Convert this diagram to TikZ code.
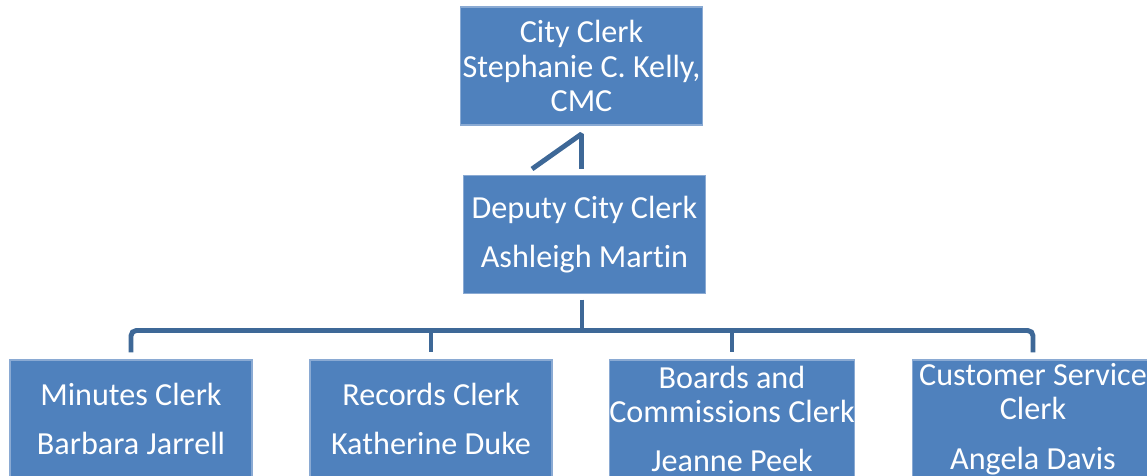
\documentclass[tikz,border=0pt]{standalone}
\usepackage{fontspec}
\setmainfont{Carlito}[Ligatures=NoCommon]
\definecolor{boxfill}{HTML}{4F81BD}
\definecolor{boxline}{HTML}{8AAAD3}
\definecolor{linkblue}{HTML}{3E6897}
\begin{document}
\begin{tikzpicture}[x=0.02cm,y=-0.02cm,
  box/.style={draw=boxline,fill=boxfill,line width=0.6pt,text=white,
    minimum width=4.84cm,minimum height=2.36cm,inner sep=0pt,align=center,
    font=\fontsize{18.3}{19.6}\selectfont},
  link/.style={draw=linkblue,line width=2.8pt}]
			%%%%% START %%%%%
			\clip (0,0) rectangle (1147,476);
			
			\node[box] (cc) at (581.5,66) {City Clerk\\Stephanie C. Kelly,\\CMC};
			\node[box] (dc) at (584.5,234.5) {Deputy City Clerk\\[8pt]Ashleigh Martin};
			
			\node[box] (mc) at (131,419) {Minutes Clerk\\[8pt]Barbara Jarrell};
			\node[box] (rc) at (431,419) {Records Clerk\\[8pt]Katherine Duke};
			\node[box] (bc) at (732,419) {Boards and\\Commissions Clerk\\[8.5pt]Jeanne Peek};
			\node[box] (sc) at (1033,419) {Customer Service\\Clerk\\[8.5pt]Angela Davis};
			
			\coordinate (tip) at ([yshift=-0.17cm]cc.south);
			\coordinate (foot) at ([xshift=-1.05cm,yshift=0.12cm]dc.north);
			\draw[link,line join=bevel] (foot) -- (tip) -- (tip |- foot);
			
			\coordinate (hub) at (582,330.5);
			\draw[link] ([yshift=-0.11cm]dc.south -| hub) -- (hub);
			\draw[link,rounded corners=3pt] ([yshift=0.14cm]mc.north) |- (hub) -| ([yshift=0.14cm]sc.north);
			\foreach \n in {rc,bc}
				\draw[link] (\n.north |- hub) -- ([yshift=0.14cm]\n.north);
			
			%%%%% END %%%%%
\end{tikzpicture}
\end{document}
